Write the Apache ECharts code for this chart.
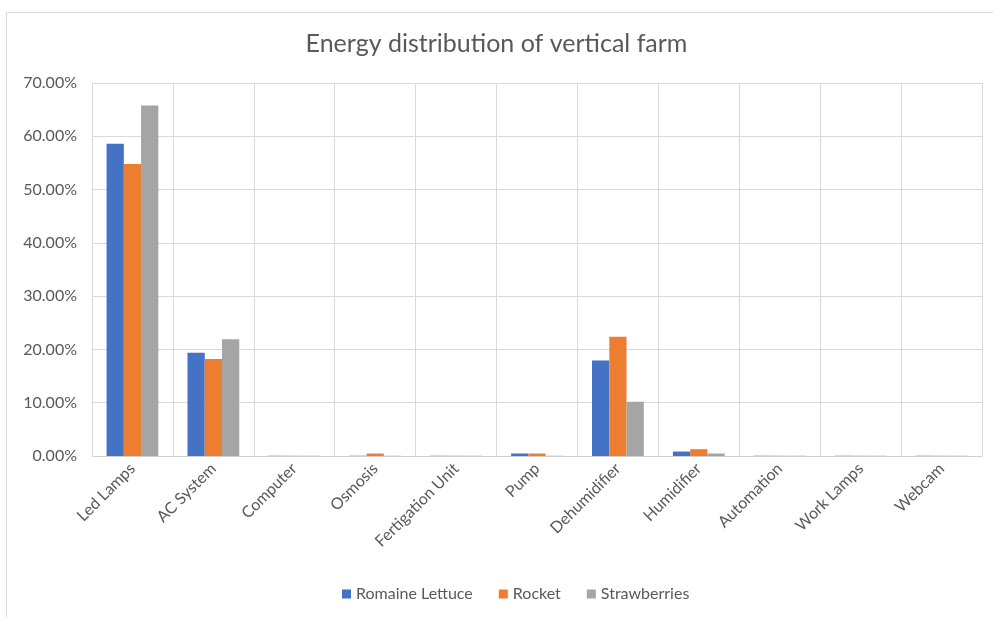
<!DOCTYPE html>
<html>
<head>
<meta charset="utf-8">
<script src="https://cdn.jsdelivr.net/npm/echarts@6/dist/echarts.min.js"></script>
<style>
  html, body { margin: 0; padding: 0; background: #ffffff; }
  #chart { width: 993px; height: 617px; }
</style>
</head>
<body>
<div id="chart"></div>
<script>
// Share of total energy use per device, in percent
const categories = ['Led Lamps', 'AC System', 'Computer', 'Osmosis', 'Fertigation Unit', 'Pump',
  'Dehumidifier', 'Humidifier', 'Automation', 'Work Lamps', 'Webcam'];
const romaineLettuce = [58.6, 19.4, 0.05, 0.05, 0.05, 0.47, 17.9, 0.84, 0.05, 0.05, 0.05];
const rocket =         [54.8, 18.2, 0.05, 0.47, 0.05, 0.47, 22.4, 1.28, 0.05, 0.05, 0.05];
const strawberries =   [65.8, 21.9, 0.05, 0.05, 0.05, 0.05, 10.2, 0.47, 0.05, 0.05, 0.05];
const seriesNames = ['Romaine Lettuce', 'Rocket', 'Strawberries'];
const seriesColors = ['#4472c4', '#ed7d31', '#a5a5a5'];
const yTicks = { min: 0, max: 70, step: 10 };

const FONT = 'Lato, "Open Sans", sans-serif';
const TEXT = '#595959';

const chart = echarts.init(document.getElementById('chart'), null, { renderer: 'canvas' });

const valueSets = [romaineLettuce, rocket, strawberries];
const series = valueSets.map((vals, i) => ({
  name: seriesNames[i],
  type: 'bar',
  data: vals,
  barGap: '0%',
  barCategoryGap: '36%',
  itemStyle: { color: seriesColors[i] },
  emphasis: { disabled: true }
}));

chart.setOption({
  animation: false,
  backgroundColor: '#ffffff',
  title: {
    text: 'Energy distribution of vertical farm',
    left: 'center',
    top: 26,
    textStyle: { fontFamily: FONT, fontSize: 25, fontWeight: 'normal', color: TEXT }
  },
  graphic: [{
    type: 'rect',
    shape: { x: 6.5, y: 12.5, width: 1000, height: 620 },
    style: { fill: 'none', stroke: '#d9d9d9', lineWidth: 1 },
    z: -1
  }],
  legend: {
    bottom: 10,
    left: 337,
    itemWidth: 9,
    itemHeight: 9,
    itemGap: 26,
    icon: 'rect',
    textStyle: { fontFamily: FONT, fontSize: 16, color: TEXT }
  },
  grid: { left: 92, right: 11, top: 83, bottom: 161 },
  xAxis: {
    type: 'category',
    data: categories,
    axisTick: { show: false },
    axisLine: { lineStyle: { color: '#d0d0d0', width: 1 } },
    splitLine: { show: true, lineStyle: { color: '#d9d9d9', width: 1 } },
    axisLabel: {
      rotate: 45,
      margin: 10,
      interval: 0,
      fontFamily: FONT,
      fontSize: 16,
      color: TEXT
    }
  },
  yAxis: {
    type: 'value',
    min: yTicks.min,
    max: yTicks.max,
    interval: yTicks.step,
    axisLine: { show: false },
    axisTick: { show: false },
    splitLine: { lineStyle: { color: '#d9d9d9', width: 1 } },
    axisLabel: {
      margin: 15,
      fontFamily: FONT,
      fontSize: 16,
      color: TEXT,
      formatter: v => v.toFixed(2) + '%'
    }
  },
  series
});
</script>
</body>
</html>
